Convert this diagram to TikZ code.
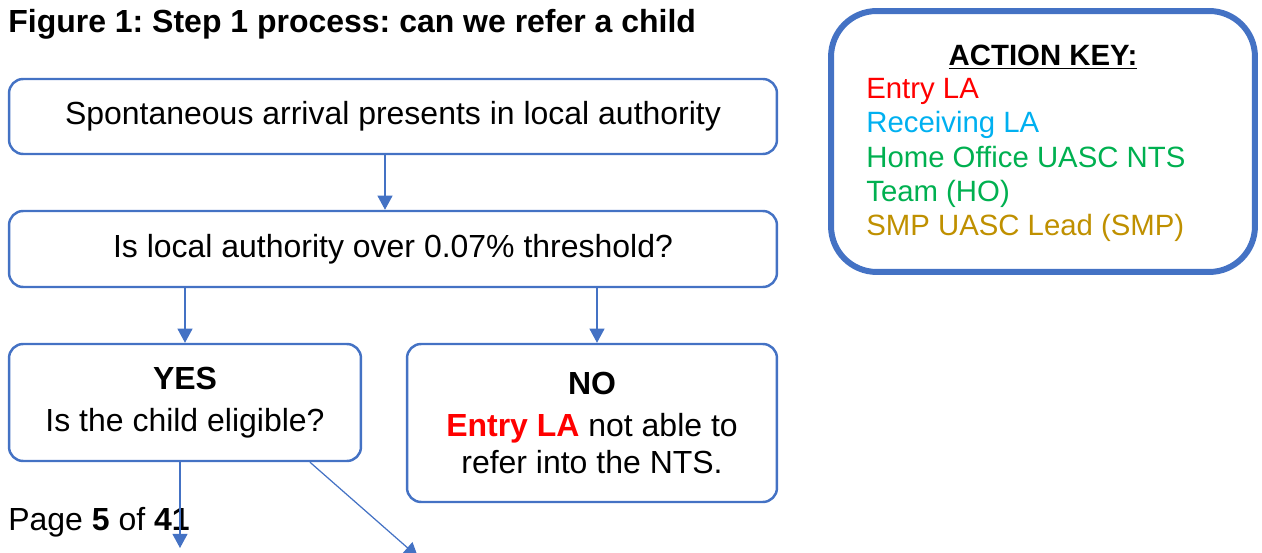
\documentclass[tikz,border=0pt]{standalone}
\usepackage{fontspec}
\setmainfont{Liberation Sans}
\usetikzlibrary{arrows.meta}

\definecolor{boxblue}{HTML}{4472C4}
\definecolor{entryred}{HTML}{FF0000}
\definecolor{receivingblue}{HTML}{00B0F0}
\definecolor{hogreen}{HTML}{00B050}
\definecolor{smpgold}{HTML}{BF9000}

\newcommand{\bodyfont}{\fontsize{18.2}{21}\selectfont}
\newcommand{\keyfont}{\fontsize{16.7}{19.4}\selectfont}
\frenchspacing

\tikzset{
  flowbox/.style={draw=boxblue, line width=1.4pt, rounded corners=8pt,
    align=center, font=\bodyfont},
  flowarrow/.style={draw=boxblue, line width=0.7pt,
    -{Triangle[width=8.5pt,length=8pt]}},
  plaintext/.style={anchor=west, inner sep=0pt}
}

\begin{document}
\begin{tikzpicture}[x=0.02cm, y=-0.02cm]
    \useasboundingbox (0,0) rectangle (1262,553);

    % heading
    \node[plaintext, font=\bodyfont\bfseries] (title) at (8,24)
      {Figure 1: Step 1 process: can we refer a child};

    % flow boxes
    \node[flowbox, minimum width=15.36cm, minimum height=1.5cm] (arrival) at (393,116.5)
      {Spontaneous arrival presents in local authority};
    \node[flowbox, minimum width=15.36cm, minimum height=1.52cm] (threshold) at (393,249)
      {Is local authority over 0.07\% threshold?};
    \node[flowbox, minimum width=7.04cm, minimum height=2.34cm] (yes) at (185,402.5)
      {\textbf{YES}\\[3pt] Is the child eligible?};
    \node[flowbox, minimum width=7.4cm, minimum height=3.16cm] (no) at (592,423)
      {\textbf{NO}\\[3pt] \textcolor{entryred}{\textbf{Entry LA}} not able to\\ refer into the NTS.};

    % key
    \node[draw=boxblue, line width=3.4pt, rounded corners=26pt,
      minimum width=8.48cm, minimum height=5.22cm] (key) at (1043,141.5) {};
    \node[font=\keyfont\bfseries, inner sep=0pt] (keytitle) at (1043,57)
      {\underline{ACTION KEY:}};
    \node[plaintext, align=left, font=\keyfont] (keylist) at (866,160)
      {\textcolor{entryred}{Entry LA}\\
       \textcolor{receivingblue}{Receiving LA}\\
       \textcolor{hogreen}{Home Office UASC NTS}\\
       \textcolor{hogreen}{Team (HO)}\\
       \textcolor{smpgold}{SMP UASC Lead (SMP)}};

    % page footer
    \node[plaintext, font=\bodyfont] (page) at (8,522)
      {Page \textbf{5} of \textbf{41}};

    \coordinate (yesdown) at (180,548);
    \coordinate (yesside) at (418,557);

    % connectors
    \draw[flowarrow] ([xshift=-0.16cm]arrival.south) -- ([xshift=-0.16cm]threshold.north);
    \draw[flowarrow] (threshold.south -| yes.north) -- (yes.north);
    \draw[flowarrow] ([xshift=0.1cm]threshold.south -| no.north) -- ([xshift=0.1cm]no.north);
    \draw[flowarrow] (yes.south -| yesdown) -- (yesdown);
    \draw[flowarrow] ([xshift=2.5cm]yes.south) -- (yesside);
\end{tikzpicture}
\end{document}
